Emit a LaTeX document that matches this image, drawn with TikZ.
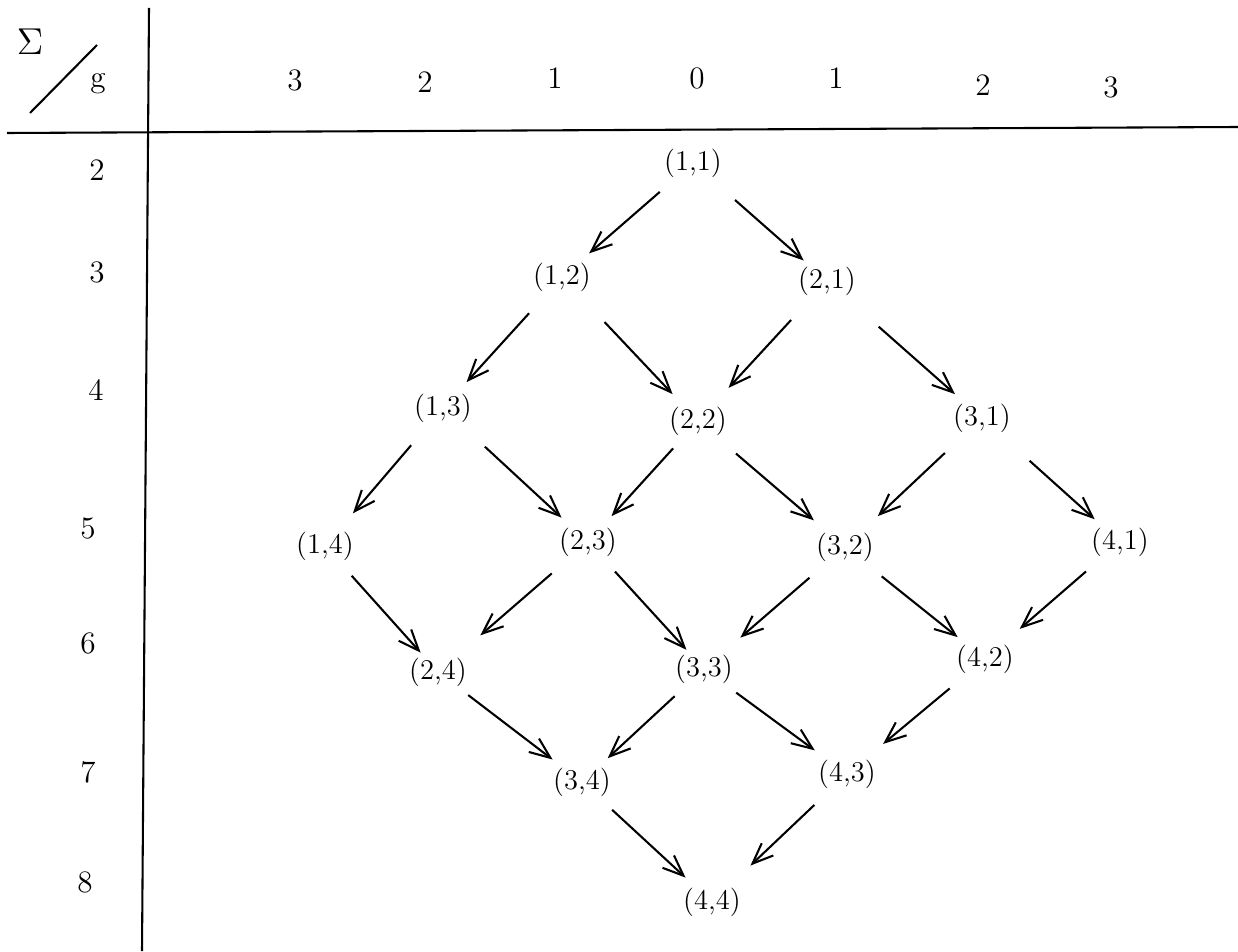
\documentclass[tikz,border=0pt]{standalone}
\usetikzlibrary{arrows.meta}
\begin{document}
\begin{tikzpicture}[x=0.385pt,y=-0.385pt,
  lab/.style={inner sep=0pt,font=\fontsize{11}{13}\selectfont},
  hdr/.style={inner sep=0pt,font=\large},
  arr/.style={-{Straight Barb[length=8pt,width=6.5pt]},line width=0.8pt},
  sh/.style 2 args={shorten <=#1*0.385pt, shorten >=#2*0.385pt},
  axis/.style={line width=0.8pt}]
\useasboundingbox (0,0) rectangle (1238,951);
% axes
\coordinate (vt) at (149,8);
\coordinate (vb) at (142,951);
\coordinate (hl) at (7,133);
\coordinate (hr) at (1238,127);
\draw[axis] (vt) -- (vb);
\draw[axis] (hl) -- (hr);
\coordinate (s1) at (30,113);
\coordinate (s2) at (97,45);
\draw[axis] (s1) -- (s2);
\node[inner sep=0pt,font=\Large] (sig) at (30,42) {$\Sigma$};
\node[hdr] (g) at (98,84) {g};
% column headers
\node[hdr] (c1) at (295,80) {3};
\node[hdr] (c2) at (425,82) {2};
\node[hdr] (c3) at (555,78) {1};
\node[hdr] (c4) at (697,78) {0};
\node[hdr] (c5) at (836,78) {1};
\node[hdr] (c6) at (983,85) {2};
\node[hdr] (c7) at (1111,87) {3};
% row headers
\node[hdr] (r2) at (97,170) {2};
\node[hdr] (r3) at (97,272) {3};
\node[hdr] (r4) at (96,390) {4};
\node[hdr] (r5) at (88,528) {5};
\node[hdr] (r6) at (88,643) {6};
\node[hdr] (r7) at (88,772) {7};
\node[hdr] (r8) at (85,882) {8};
% nodes
\node[lab] (n11) at (693,163) {(1,1)};
\node[lab] (n12) at (562,277) {(1,2)};
\node[lab] (n21) at (827,281) {(2,1)};
\node[lab] (n13) at (443,408) {(1,3)};
\node[lab] (n22) at (698,421) {(2,2)};
\node[lab] (n31) at (982,418) {(3,1)};
\node[lab] (n14) at (325,546) {(1,4)};
\node[lab] (n23) at (588,542) {(2,3)};
\node[lab] (n32) at (845,547) {(3,2)};
\node[lab] (n41) at (1120,542) {(4,1)};
\node[lab] (n24) at (438,672) {(2,4)};
\node[lab] (n33) at (704,669) {(3,3)};
\node[lab] (n42) at (985,659) {(4,2)};
\node[lab] (n34) at (582,782) {(3,4)};
\node[lab] (n43) at (847,774) {(4,3)};
\node[lab] (n44) at (712,902) {(4,4)};
% arrows
\draw[arr,sh={44}{36}] (n11.center) -- (n12.center);
\draw[arr,sh={56}{31}] (n11.center) -- (n21.center);
\draw[arr,sh={49}{35}] (n12.center) -- (n13.center);
\draw[arr,sh={62}{37}] (n12.center) -- (n22.center);
\draw[arr,sh={53}{45}] (n21.center) -- (n22.center);
\draw[arr,sh={69}{36}] (n21.center) -- (n31.center);
\draw[arr,sh={49}{43}] (n13.center) -- (n14.center);
\draw[arr,sh={57}{36}] (n13.center) -- (n23.center);
\draw[arr,sh={37}{35}] (n22.center) -- (n23.center);
\draw[arr,sh={50}{41}] (n22.center) -- (n32.center);
\draw[arr,sh={51}{45}] (n31.center) -- (n32.center);
\draw[arr,sh={64}{34}] (n31.center) -- (n41.center);
\draw[arr,sh={40}{26}] (n14.center) -- (n24.center);
\draw[arr,sh={48}{56}] (n23.center) -- (n24.center);
\draw[arr,sh={40}{26}] (n23.center) -- (n33.center);
\draw[arr,sh={47}{48}] (n32.center) -- (n33.center);
\draw[arr,sh={47}{35}] (n32.center) -- (n42.center);
\draw[arr,sh={45}{46}] (n41.center) -- (n42.center);
\draw[arr,sh={38}{37}] (n24.center) -- (n34.center);
\draw[arr,sh={40}{35}] (n33.center) -- (n34.center);
\draw[arr,sh={40}{40}] (n33.center) -- (n43.center);
\draw[arr,sh={46}{47}] (n42.center) -- (n43.center);
\draw[arr,sh={41}{36}] (n34.center) -- (n44.center);
\draw[arr,sh={45}{53}] (n43.center) -- (n44.center);
\end{tikzpicture}
\end{document}
